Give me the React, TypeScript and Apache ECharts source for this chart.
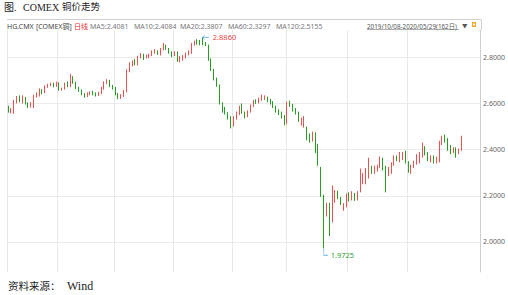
import React, { useEffect, useRef } from "react";
import * as echarts from "echarts";

// OHLC per trading month: [open, close, low, high]
const oct2019 = [
  [2.585, 2.565, 2.56, 2.59], [2.565, 2.575, 2.558, 2.58], [2.562, 2.61, 2.555, 2.615], [2.605, 2.625, 2.6, 2.632],
  [2.63, 2.615, 2.605, 2.635], [2.605, 2.628, 2.6, 2.635], [2.622, 2.6, 2.595, 2.628], [2.598, 2.585, 2.58, 2.605],
  [2.588, 2.598, 2.582, 2.605], [2.585, 2.63, 2.58, 2.638], [2.63, 2.64, 2.625, 2.648], [2.638, 2.66, 2.63, 2.665],
  [2.655, 2.648, 2.64, 2.662], [2.65, 2.672, 2.645, 2.678], [2.672, 2.68, 2.668, 2.685], [2.682, 2.686, 2.675, 2.69],
  [2.684, 2.676, 2.67, 2.69], [2.676, 2.69, 2.672, 2.694],
];
const nov2019 = [
  [2.688, 2.66, 2.655, 2.692], [2.662, 2.664, 2.655, 2.668], [2.664, 2.685, 2.66, 2.69], [2.686, 2.678, 2.67, 2.695],
  [2.675, 2.72, 2.67, 2.728], [2.712, 2.69, 2.685, 2.718], [2.69, 2.668, 2.662, 2.694], [2.668, 2.655, 2.65, 2.672],
  [2.655, 2.64, 2.635, 2.66], [2.64, 2.632, 2.625, 2.645], [2.632, 2.642, 2.628, 2.648], [2.64, 2.648, 2.636, 2.652],
  [2.65, 2.64, 2.635, 2.655], [2.642, 2.635, 2.63, 2.648], [2.635, 2.645, 2.632, 2.65], [2.645, 2.668, 2.64, 2.672],
  [2.665, 2.69, 2.66, 2.695], [2.688, 2.7, 2.684, 2.705], [2.698, 2.675, 2.67, 2.702], [2.675, 2.668, 2.66, 2.68],
];
const dec2019 = [
  [2.668, 2.64, 2.635, 2.672], [2.64, 2.625, 2.618, 2.645], [2.625, 2.635, 2.62, 2.64], [2.632, 2.652, 2.628, 2.658],
  [2.65, 2.74, 2.648, 2.748], [2.74, 2.77, 2.735, 2.778], [2.765, 2.78, 2.76, 2.786], [2.785, 2.772, 2.765, 2.792],
  [2.77, 2.8, 2.765, 2.806], [2.798, 2.812, 2.795, 2.818], [2.81, 2.795, 2.788, 2.815], [2.8, 2.802, 2.795, 2.812],
  [2.798, 2.81, 2.795, 2.815], [2.808, 2.825, 2.805, 2.83], [2.818, 2.828, 2.815, 2.835], [2.826, 2.815, 2.81, 2.83],
  [2.812, 2.835, 2.808, 2.84], [2.835, 2.855, 2.83, 2.862], [2.85, 2.838, 2.832, 2.855], [2.835, 2.82, 2.815, 2.84],
  [2.822, 2.81, 2.8, 2.826],
];
const jan2020 = [
  [2.812, 2.82, 2.805, 2.826], [2.82, 2.785, 2.78, 2.825], [2.782, 2.8, 2.778, 2.805], [2.79, 2.805, 2.785, 2.81],
  [2.8, 2.815, 2.795, 2.82], [2.812, 2.825, 2.808, 2.83], [2.82, 2.858, 2.815, 2.862], [2.855, 2.868, 2.85, 2.872],
  [2.872, 2.862, 2.855, 2.878], [2.868, 2.86, 2.852, 2.875], [2.87, 2.858, 2.852, 2.886], [2.86, 2.852, 2.848, 2.866],
  [2.85, 2.79, 2.785, 2.855], [2.79, 2.745, 2.74, 2.795], [2.745, 2.705, 2.7, 2.75], [2.705, 2.68, 2.672, 2.712],
  [2.68, 2.6, 2.595, 2.682], [2.595, 2.57, 2.56, 2.605], [2.575, 2.56, 2.552, 2.585], [2.555, 2.54, 2.53, 2.562],
  [2.54, 2.505, 2.492, 2.545],
];
const feb2020 = [
  [2.505, 2.54, 2.5, 2.545], [2.535, 2.555, 2.53, 2.565], [2.555, 2.585, 2.55, 2.59], [2.59, 2.56, 2.555, 2.6],
  [2.56, 2.545, 2.535, 2.565], [2.545, 2.565, 2.54, 2.57], [2.565, 2.59, 2.56, 2.595], [2.59, 2.61, 2.585, 2.615],
  [2.612, 2.605, 2.598, 2.618], [2.605, 2.62, 2.6, 2.625], [2.618, 2.632, 2.612, 2.638], [2.622, 2.628, 2.615, 2.635],
  [2.625, 2.615, 2.605, 2.63], [2.615, 2.6, 2.595, 2.62], [2.605, 2.585, 2.58, 2.61], [2.585, 2.57, 2.56, 2.59],
  [2.57, 2.555, 2.55, 2.575], [2.558, 2.545, 2.535, 2.565], [2.545, 2.52, 2.505, 2.55],
];
const mar2020 = [
  [2.515, 2.6, 2.51, 2.608], [2.6, 2.59, 2.585, 2.612], [2.59, 2.57, 2.565, 2.598], [2.572, 2.56, 2.552, 2.58],
  [2.56, 2.525, 2.52, 2.565], [2.52, 2.53, 2.505, 2.538], [2.51, 2.54, 2.495, 2.545], [2.495, 2.45, 2.44, 2.5],
  [2.455, 2.44, 2.43, 2.47], [2.44, 2.47, 2.435, 2.478], [2.46, 2.41, 2.385, 2.475], [2.42, 2.34, 2.33, 2.425],
  [2.32, 2.2, 2.195, 2.325], [2.2, 2.15, 1.9725, 2.205], [2.115, 2.165, 2.11, 2.17], [2.165, 2.11, 2.025, 2.17],
  [2.09, 2.235, 2.085, 2.245], [2.175, 2.215, 2.17, 2.225], [2.215, 2.19, 2.185, 2.222], [2.19, 2.165, 2.16, 2.195],
  [2.14, 2.16, 2.135, 2.168], [2.16, 2.2, 2.15, 2.21],
];
const apr2020 = [
  [2.205, 2.185, 2.175, 2.215], [2.19, 2.21, 2.18, 2.22], [2.205, 2.185, 2.178, 2.212], [2.185, 2.215, 2.18, 2.22],
  [2.225, 2.31, 2.215, 2.318], [2.255, 2.29, 2.25, 2.298], [2.255, 2.31, 2.25, 2.32], [2.28, 2.355, 2.275, 2.365],
  [2.325, 2.3, 2.295, 2.33], [2.3, 2.325, 2.295, 2.33], [2.31, 2.33, 2.305, 2.335], [2.325, 2.365, 2.32, 2.37],
  [2.36, 2.315, 2.31, 2.365], [2.325, 2.285, 2.215, 2.33], [2.29, 2.32, 2.285, 2.325], [2.3, 2.34, 2.295, 2.345],
  [2.335, 2.37, 2.33, 2.375], [2.37, 2.355, 2.35, 2.375], [2.35, 2.385, 2.345, 2.39], [2.36, 2.385, 2.355, 2.39],
  [2.39, 2.345, 2.34, 2.395],
];
const may2020 = [
  [2.345, 2.31, 2.3, 2.35], [2.3, 2.33, 2.295, 2.335], [2.325, 2.345, 2.32, 2.352], [2.34, 2.375, 2.335, 2.38],
  [2.355, 2.385, 2.34, 2.39], [2.37, 2.42, 2.365, 2.43], [2.41, 2.38, 2.375, 2.415], [2.385, 2.355, 2.35, 2.39],
  [2.35, 2.37, 2.345, 2.375], [2.37, 2.345, 2.34, 2.375], [2.345, 2.365, 2.34, 2.37], [2.35, 2.43, 2.345, 2.438],
  [2.425, 2.455, 2.42, 2.46], [2.455, 2.435, 2.43, 2.465], [2.445, 2.41, 2.395, 2.45], [2.415, 2.395, 2.38, 2.42],
  [2.39, 2.405, 2.385, 2.41], [2.405, 2.385, 2.365, 2.41], [2.385, 2.4, 2.38, 2.405], [2.4, 2.45, 2.395, 2.46],
];

const monthLabels = ["2019/10", "2019/11", "2019/12", "2020/01", "2020/02", "2020/03", "2020/04", "2020/05"];
const monthData = [oct2019, nov2019, dec2019, jan2020, feb2020, mar2020, apr2020, may2020];
const blankSlots = 6;

const headerItems = [
  { text: "HG.CMX", x: 7, color: "#444" },
  { text: "[COMEX铜]", x: 36, color: "#444" },
  { text: "日线", x: 74, color: "#e8302a" },
  { text: "MA5:2.4081", x: 90, color: "#777" },
  { text: "MA10:2.4084", x: 134, color: "#777" },
  { text: "MA20:2.3807", x: 180, color: "#777" },
  { text: "MA60:2.3297", x: 228, color: "#777" },
  { text: "MA120:2.5155", x: 276, color: "#777" },
];

export default function App() {
  const ref = useRef<HTMLDivElement>(null);
  useEffect(() => {
    if (!ref.current) return;
    const chart = echarts.init(ref.current, null, { renderer: "svg" });

    const categories: string[] = [];
    const data: number[][] = [];
    const monthStarts = new Set<number>();
    monthData.forEach((arr, m) => {
      monthStarts.add(categories.length);
      arr.forEach((d, k) => {
        categories.push(`${monthLabels[m]}/${k + 1}`);
        data.push(d);
      });
    });
    for (let i = 0; i < blankSlots; i++) categories.push("");

    const sans = "'Noto Sans', 'Noto Sans CJK SC', sans-serif";
    const serif = "'Liberation Serif', 'DejaVu Serif', 'Noto Sans CJK SC', serif";

    const graphics: any[] = [
      { type: "text", x: 4, y: 7, style: { text: "图.", font: `10px ${serif}`, fill: "#222", verticalAlign: "middle" } },
      { type: "text", x: 23, y: 7, style: { text: "COMEX", font: `10px ${serif}`, fill: "#222", verticalAlign: "middle" } },
      { type: "text", x: 62, y: 7, style: { text: "铜价走势", font: `9.5px ${serif}`, fill: "#222", verticalAlign: "middle" } },
      { type: "line", shape: { x1: 7, y1: 19.5, x2: 481, y2: 19.5 }, style: { stroke: "#d0d0d0", lineWidth: 1 } },
      { type: "line", shape: { x1: 481.5, y1: 19.5, x2: 481.5, y2: 30 }, style: { stroke: "#d0d0d0", lineWidth: 1 } },
      ...headerItems.map((h) => ({
        type: "text", x: h.x, y: 26,
        style: { text: h.text, font: `7px ${sans}`, fill: h.color, verticalAlign: "middle" },
      })),
      {
        type: "text", x: 367, y: 26,
        style: { text: "2019/10/08-2020/05/29(162日)", font: `6.3px ${sans}`, fill: "#555", verticalAlign: "middle" },
      },
      { type: "line", shape: { x1: 367, y1: 29.5, x2: 459, y2: 29.5 }, style: { stroke: "#777", lineWidth: 0.6 } },
      {
        type: "text", x: 462, y: 26,
        style: { text: "▼", font: `5.5px ${sans}`, fill: "#555", verticalAlign: "middle" },
      },
      { type: "rect", shape: { x: 472, y: 22, width: 4, height: 5 }, style: { fill: "#f5a623" } },
      { type: "rect", shape: { x: 473, y: 23.5, width: 2, height: 2 }, style: { fill: "#fff" } },
      { type: "text", x: 8, y: 286, style: { text: "资料来源：", font: `10.5px ${serif}`, fill: "#222", verticalAlign: "middle" } },
      { type: "text", x: 67, y: 286, style: { text: "Wind", font: `12px ${serif}`, fill: "#222", verticalAlign: "middle" } },
    ];

    chart.setOption({
      animation: false,
      backgroundColor: "#fff",
      grid: { left: 7, right: 27, top: 30, bottom: 23, containLabel: false },
      xAxis: {
        type: "category",
        data: categories,
        boundaryGap: true,
        axisLine: { show: false },
        axisTick: { show: false },
        axisLabel: { show: false },
        splitLine: {
          show: true,
          interval: (i: number) => monthStarts.has(i),
          lineStyle: { color: "#e8e8e8", width: 1 },
        },
      },
      yAxis: {
        type: "value",
        position: "right",
        min: 1.87,
        max: 2.918,
        splitNumber: 5,
        scale: true,
        axisLine: { show: true, lineStyle: { color: "#cfcfcf" } },
        axisTick: { show: false },
        axisLabel: {
          show: true,
          color: "#666",
          fontSize: 7,
          fontFamily: "'Noto Sans', sans-serif",
          margin: 3,
          showMinLabel: false,
          showMaxLabel: false,
          formatter: (v: number) => v.toFixed(4),
        },
        splitLine: {
          show: true,
          showMinLine: false,
          showMaxLine: false,
          lineStyle: { color: "#ebebeb", width: 1 },
        },
      },
      series: [
        {
          type: "candlestick",
          data,
          barWidth: 1,
          itemStyle: {
            color: "#ef5050",
            color0: "#279d27",
            borderColor: "#ef5050",
            borderColor0: "#279d27",
            borderWidth: 1,
          },
          markPoint: {
            silent: true,
            data: [
              {
                type: "max",
                valueDim: "highest",
                symbol: "path://M0,2 L2,0 M0,2 L2,4 M0,2 L6,2",
                symbolSize: [6, 4],
                symbolOffset: [3, 0],
                itemStyle: { color: "none", borderColor: "#5aaee0", borderWidth: 0.8 },
                label: {
                  show: true, position: "right", distance: 1, color: "#e84545", fontSize: 7.5,
                  fontFamily: "'Noto Sans', sans-serif",
                  formatter: (p: any) => Number(p.value).toFixed(4),
                },
              },
              {
                type: "min",
                valueDim: "lowest",
                symbol: "path://M0,0 L0,7 L4,7",
                symbolSize: [4, 7],
                symbolOffset: [2, 3.5],
                itemStyle: { color: "none", borderColor: "#5aaee0", borderWidth: 0.8 },
                label: {
                  show: true, position: "right", distance: 1, offset: [0, 3.5], color: "#2e9e2e", fontSize: 7.5,
                  fontFamily: "'Noto Sans', sans-serif",
                  formatter: (p: any) => Number(p.value).toFixed(4),
                },
              },
            ],
          },
        },
      ],
      graphic: graphics,
    });
    return () => chart.dispose();
  }, []);
  return (
    <div
      ref={ref}
      style={{ position: "fixed", left: 0, top: 0, width: 508, height: 295, background: "#fff" }}
    />
  );
}
